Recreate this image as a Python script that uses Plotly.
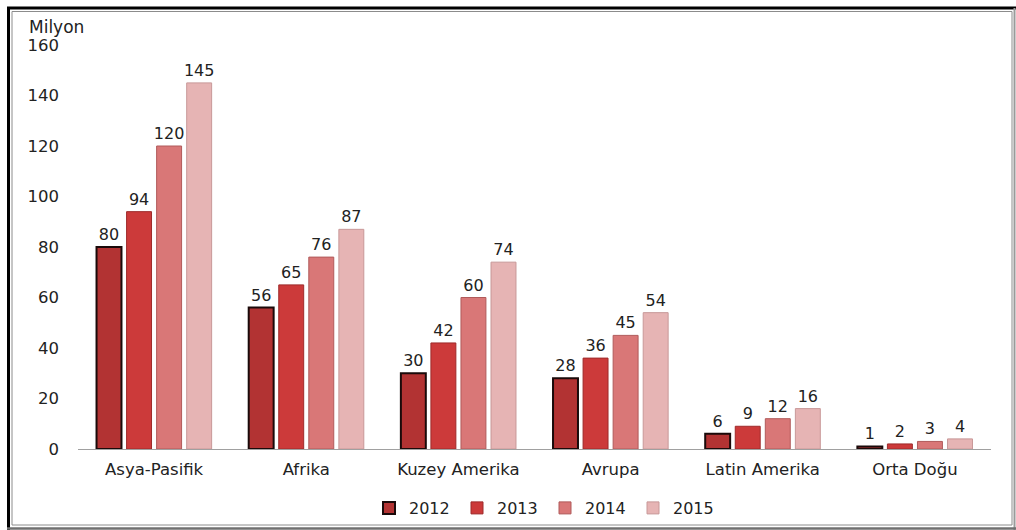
import plotly.graph_objects as go

# Regional values (million) by year
regions = ["Asya-Pasifik", "Afrika", "Kuzey Amerika", "Avrupa", "Latin Amerika", "Orta Doğu"]
years = ["2012", "2013", "2014", "2015"]
v2012 = [80, 56, 30, 28, 6, 1]
v2013 = [94, 65, 42, 36, 9, 2]
v2014 = [120, 76, 60, 45, 12, 3]
v2015 = [145, 87, 74, 54, 16, 4]
series = [v2012, v2013, v2014, v2015]

fills = ["#B23333", "#CC3A3A", "#D97777", "#E6B4B4"]
edges = ["#1A0A0A", "#9E2A2A", "#B05A5A", "#C89898"]
edge_w = [2, 1, 1, 1]

W, H = 1016, 530
L, R, T, B = 78, 25, 45, 81
pw, ph = W - L - R, H - T - B


def px(x):
    return (x - L) / pw


def py(y):
    return (H - B - y) / ph


fig = go.Figure()
for yr, vals, fc, ec, ew in zip(years, series, fills, edges, edge_w):
    fig.add_trace(go.Bar(
        name=yr, x=regions, y=vals,
        marker=dict(color=fc, line=dict(color=ec, width=ew)),
        text=[str(v) for v in vals], textposition="outside", constraintext="none",
        textfont=dict(size=16, color="#222222"), cliponaxis=False,
    ))

font = "'DejaVu Sans', 'Open Sans', sans-serif"

shapes = [
    # outer frame: dark on top/left, grey on right/bottom
    dict(type="line", xref="paper", yref="paper", x0=px(8.5), x1=px(8.5), y0=py(7), y1=py(530),
         line=dict(color="#000000", width=3)),
    dict(type="line", xref="paper", yref="paper", x0=px(7), x1=px(1016), y0=py(8), y1=py(8),
         line=dict(color="#000000", width=3)),
    dict(type="line", xref="paper", yref="paper", x0=px(1014.5), x1=px(1014.5), y0=py(8), y1=py(530),
         line=dict(color="#9A9A9A", width=2)),
    dict(type="line", xref="paper", yref="paper", x0=px(7), x1=px(1016), y0=py(528.5), y1=py(528.5),
         line=dict(color="#707070", width=2.5)),
    # inner thin frame
    dict(type="rect", xref="paper", yref="paper", x0=px(12), x1=px(1012), y0=py(11.5), y1=py(525),
         line=dict(color="#8C8C8C", width=1)),
]

fig.update_layout(
    width=W, height=H,
    margin=dict(l=L, r=R, t=T, b=B, autoexpand=False),
    paper_bgcolor="white", plot_bgcolor="white",
    font=dict(family=font, size=16, color="#222222"),
    barmode="group", bargap=0.21, bargroupgap=0.17,
    showlegend=True,
    legend=dict(orientation="h", xref="container", yref="container",
                x=545 / W, xanchor="center", y=1 - 508 / H, yanchor="middle",
                font=dict(size=16), entrywidth=43, entrywidthmode="pixels",
                itemwidth=30, tracegroupgap=0, bgcolor="rgba(0,0,0,0)"),
    xaxis=dict(showline=True, linecolor="#A0A0A0", linewidth=1, ticks="", showgrid=False,
               tickfont=dict(size=16.5), ticklabelstandoff=5, automargin=False),
    yaxis=dict(range=[0, 160], dtick=20, showgrid=False, zeroline=False, showline=False,
               ticks="", ticklabelstandoff=18, tickfont=dict(size=16.5), automargin=False),
    shapes=shapes,
    annotations=[dict(text="Milyon", xref="paper", yref="paper", x=px(27), y=py(27),
                      xanchor="left", yanchor="middle", showarrow=False, font=dict(size=17))],
)

fig.write_html("out.html")
